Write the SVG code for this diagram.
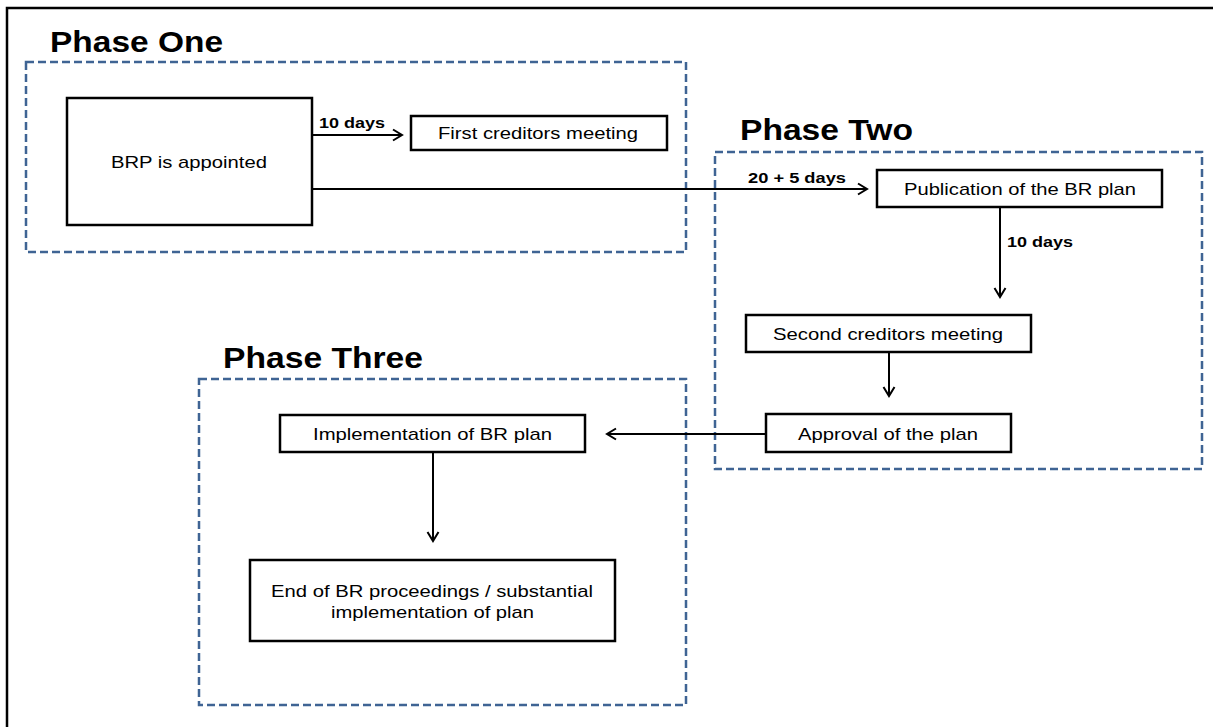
<svg xmlns="http://www.w3.org/2000/svg" width="1213" height="727" viewBox="0 0 1213 727">
<style>
.t{font-family:"Liberation Sans",Arial,sans-serif;font-size:17px;fill:#000}
.b{font-family:"Liberation Sans",Arial,sans-serif;font-size:15px;font-weight:bold;fill:#000}
.h{font-family:"Liberation Sans",Arial,sans-serif;font-size:30px;font-weight:bold;fill:#000}
.box{fill:#fff;stroke:#000;stroke-width:2.5}
.phase{fill:none;stroke:#3F6494;stroke-width:2.5;stroke-dasharray:8 4}
.c{fill:none;stroke:#000;stroke-width:2}
</style>
<defs>
<marker id="arr" markerUnits="userSpaceOnUse" markerWidth="14" markerHeight="14" refX="11" refY="7" orient="auto">
<path d="M2,1.5 L11,7 L2,12.5" fill="none" stroke="#000" stroke-width="2"/>
</marker>
</defs>
<rect x="0" y="0" width="1213" height="727" fill="#fff"/>
<rect x="7" y="8" width="1230" height="740" fill="none" stroke="#000" stroke-width="2.5"/>

<g id="phase-one">
<rect class="phase" x="26" y="62" width="660" height="190"/>
<text class="h" x="50" y="52" textLength="173" lengthAdjust="spacingAndGlyphs">Phase One</text>
</g>
<g id="phase-two">
<rect class="phase" x="715" y="152" width="487" height="317"/>
<text class="h" x="740" y="140" textLength="173" lengthAdjust="spacingAndGlyphs">Phase Two</text>
</g>
<g id="phase-three">
<rect class="phase" x="199" y="379" width="487" height="326"/>
<text class="h" x="223" y="368" textLength="200" lengthAdjust="spacingAndGlyphs">Phase Three</text>
</g>

<g id="connectors">
<line class="c" x1="312" y1="135" x2="402" y2="135" marker-end="url(#arr)"/>
<text class="b" x="319" y="128" textLength="66" lengthAdjust="spacingAndGlyphs">10 days</text>
<line class="c" x1="312" y1="189" x2="867" y2="189" marker-end="url(#arr)"/>
<text class="b" x="748" y="183" textLength="98" lengthAdjust="spacingAndGlyphs">20 + 5 days</text>
<line class="c" x1="1000" y1="207" x2="1000" y2="297" marker-end="url(#arr)"/>
<text class="b" x="1007" y="247" textLength="66" lengthAdjust="spacingAndGlyphs">10 days</text>
<line class="c" x1="889" y1="352" x2="889" y2="396" marker-end="url(#arr)"/>
<line class="c" x1="766" y1="434" x2="607" y2="434" marker-end="url(#arr)"/>
<line class="c" x1="433" y1="452" x2="433" y2="541" marker-end="url(#arr)"/>
</g>

<g id="brp">
<rect class="box" x="67" y="98" width="245" height="127" stroke-width="3"/>
<text class="t" x="111" y="168" textLength="156" lengthAdjust="spacingAndGlyphs">BRP is appointed</text>
</g>
<g id="first-meeting">
<rect class="box" x="411" y="116" width="256" height="34"/>
<text class="t" x="438" y="139" textLength="200" lengthAdjust="spacingAndGlyphs">First creditors meeting</text>
</g>
<g id="publication">
<rect class="box" x="877" y="170" width="285" height="37"/>
<text class="t" x="904" y="195" textLength="232" lengthAdjust="spacingAndGlyphs">Publication of the BR plan</text>
</g>
<g id="second-meeting">
<rect class="box" x="746" y="315" width="285" height="37"/>
<text class="t" x="773" y="340" textLength="230" lengthAdjust="spacingAndGlyphs">Second creditors meeting</text>
</g>
<g id="approval">
<rect class="box" x="766" y="414" width="245" height="38"/>
<text class="t" x="798" y="440" textLength="180" lengthAdjust="spacingAndGlyphs">Approval of the plan</text>
</g>
<g id="implementation">
<rect class="box" x="280" y="415" width="305" height="37"/>
<text class="t" x="313" y="440" textLength="239" lengthAdjust="spacingAndGlyphs">Implementation of BR plan</text>
</g>
<g id="end">
<rect class="box" x="250" y="560" width="365" height="81"/>
<text class="t" x="271" y="597" textLength="322" lengthAdjust="spacingAndGlyphs">End of BR proceedings / substantial</text>
<text class="t" x="331" y="618" textLength="203" lengthAdjust="spacingAndGlyphs">implementation of plan</text>
</g>
</svg>
